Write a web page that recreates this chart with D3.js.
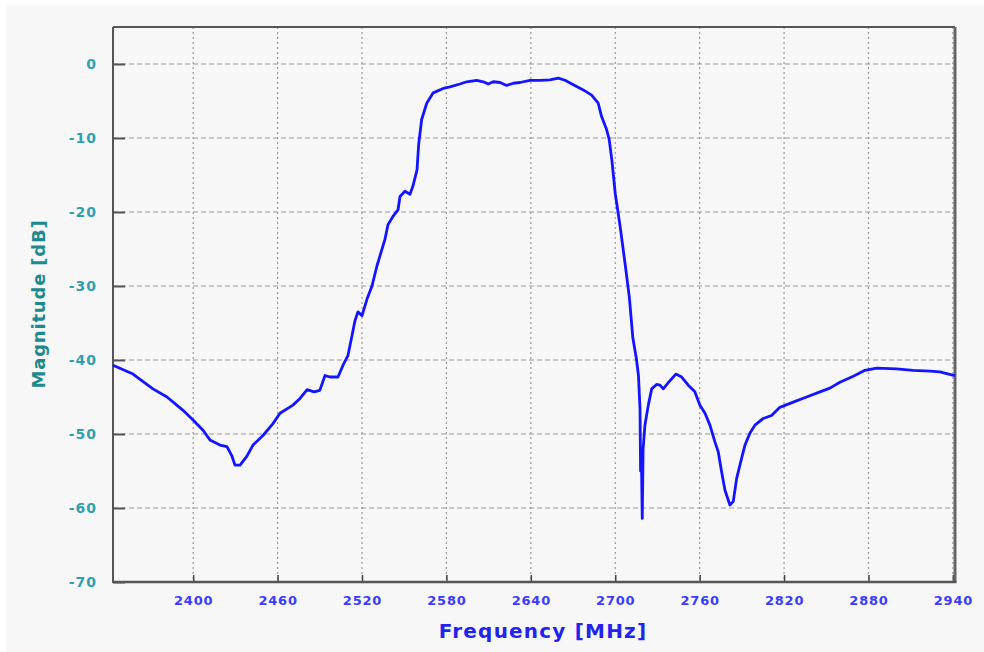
<!DOCTYPE html>
<html><head><meta charset="utf-8">
<script src="https://cdn.jsdelivr.net/npm/d3@7/dist/d3.min.js"></script>
<style>html,body{margin:0;padding:0;background:#fff;}svg{display:block;}</style>
</head><body>
<script>
const xTicks = [2400, 2460, 2520, 2580, 2640, 2700, 2760, 2820, 2880, 2940];
const yTicks = [0, -10, -20, -30, -40, -50, -60, -70];
const freq = [2343.0,2357.2,2371.4,2381.4,2392.8,2399.9,2407.0,2411.9,2419.0,2424.0,2427.6,2429.7,2433.3,2438.2,2442.5,2449.6,2456.7,2461.7,2470.9,2475.9,2481.0,2486.0,2490.0,2493.7,2497.2,2502.9,2506.5,2510.0,2512.9,2515.0,2517.1,2520.0,2523.5,2527.1,2530.6,2532.8,2536.3,2538.5,2542.0,2545.6,2547.0,2550.5,2554.1,2556.2,2559.1,2560.3,2562.4,2566.0,2570.6,2577.7,2582.5,2589.6,2594.4,2601.5,2606.2,2609.7,2613.3,2618.1,2622.8,2627.5,2632.3,2639.4,2646.5,2653.6,2659.5,2664.3,2670.2,2677.3,2683.2,2687.9,2690.3,2693.9,2695.7,2697.6,2700.0,2703.5,2707.0,2710.0,2712.5,2715.0,2716.5,2717.6,2718.0,2718.5,2719.2,2719.8,2721.1,2723.5,2725.9,2729.4,2731.8,2734.1,2738.9,2743.1,2747.2,2751.9,2756.6,2760.2,2763.8,2767.3,2770.9,2773.2,2775.6,2778.0,2781.5,2783.9,2786.3,2789.8,2792.2,2795.7,2799.3,2805.2,2811.1,2817.0,2826.5,2836.0,2845.5,2852.6,2859.7,2869.2,2877.5,2885.8,2900.0,2911.8,2923.7,2930.8,2939.1,2941.5];
const magnitude = [-40.7,-41.9,-43.9,-45.0,-46.8,-48.1,-49.5,-50.8,-51.5,-51.7,-53.0,-54.2,-54.2,-53.0,-51.5,-50.2,-48.6,-47.2,-46.1,-45.2,-44.0,-44.3,-44.1,-42.1,-42.3,-42.3,-40.7,-39.4,-36.7,-34.7,-33.5,-34.0,-31.8,-30.0,-27.3,-25.9,-23.7,-21.7,-20.6,-19.7,-17.9,-17.2,-17.6,-16.5,-14.3,-10.8,-7.5,-5.3,-3.9,-3.3,-3.1,-2.7,-2.4,-2.2,-2.4,-2.7,-2.4,-2.5,-2.9,-2.6,-2.5,-2.2,-2.2,-2.15,-1.9,-2.2,-2.8,-3.5,-4.2,-5.3,-7.1,-8.9,-10.2,-13.0,-17.5,-22.0,-27.0,-31.5,-37.0,-39.8,-42.1,-46.6,-55.0,-52.0,-61.4,-52.0,-48.8,-46.1,-43.9,-43.3,-43.4,-43.9,-42.8,-41.9,-42.3,-43.4,-44.3,-46.1,-47.2,-48.8,-51.1,-52.4,-55.1,-57.6,-59.6,-59.1,-56.0,-53.3,-51.5,-49.9,-48.8,-47.9,-47.5,-46.4,-45.7,-45.0,-44.3,-43.8,-43.0,-42.2,-41.4,-41.1,-41.2,-41.4,-41.5,-41.6,-42.0,-42.1];

const W = 984, H = 652;
const L = 113, R = 955, T = 27, B = 582;
const svg = d3.select("body").append("svg").attr("width", W).attr("height", H);
svg.append("rect").attr("x", 6).attr("y", 5).attr("width", W - 6).attr("height", H - 5).attr("fill", "#f7f7f7");

const x = d3.scaleLinear().domain([2343, 2941.5]).range([L, R]);
const y = d3.scaleLinear().domain([-70, 5]).range([B, T]);
const fmt = d => String(d);

// grid
svg.append("g").selectAll("line").data(yTicks.filter(d => d > -70)).join("line")
  .attr("x1", L).attr("x2", R).attr("y1", d => y(d)).attr("y2", d => y(d))
  .attr("stroke", "#9a9a9a").attr("stroke-width", 1.2).attr("stroke-dasharray", "5,3");
svg.append("g").selectAll("line").data(xTicks).join("line")
  .attr("x1", d => x(d)).attr("x2", d => x(d)).attr("y1", T).attr("y2", B)
  .attr("stroke", "#9a9a9a").attr("stroke-width", 1.2).attr("stroke-dasharray", "2,3");

// axes
const yAxis = d3.axisLeft(y).tickValues(yTicks).tickSize(-12).tickPadding(16).tickFormat(fmt);
const gy = svg.append("g").attr("transform", `translate(${L},0)`).call(yAxis);
gy.select(".domain").remove();
gy.selectAll(".tick line").attr("stroke", "#555").attr("stroke-width", 2);
gy.selectAll(".tick text").attr("fill", "#30a0ae").attr("font-family", "DejaVu Sans, Verdana, sans-serif")
  .attr("font-weight", "bold").attr("font-size", 14).attr("letter-spacing", 1);

const xAxis = d3.axisBottom(x).tickValues(xTicks).tickSize(-7).tickPadding(14).tickFormat(fmt);
const gx = svg.append("g").attr("transform", `translate(0,${B})`).call(xAxis);
gx.select(".domain").remove();
gx.selectAll(".tick line").attr("stroke", "#444").attr("stroke-width", 1.5);
gx.selectAll(".tick text").attr("fill", "#3b3bff").attr("font-family", "DejaVu Sans, Verdana, sans-serif")
  .attr("font-weight", "bold").attr("font-size", 13).attr("letter-spacing", 0.8);

// frame
svg.append("line").attr("x1", L).attr("x2", R).attr("y1", T).attr("y2", T).attr("stroke", "#555").attr("stroke-width", 2);
svg.append("line").attr("x1", R).attr("x2", R).attr("y1", T).attr("y2", B).attr("stroke", "#666").attr("stroke-width", 3);
svg.append("line").attr("x1", L).attr("x2", L).attr("y1", T).attr("y2", B + 1).attr("stroke", "#555").attr("stroke-width", 2);
svg.append("line").attr("x1", L).attr("x2", R + 1.5).attr("y1", B).attr("y2", B).attr("stroke", "#555").attr("stroke-width", 2.5);

// curve
const data = freq.map((f, i) => [f, magnitude[i]]);
svg.append("path").datum(data)
  .attr("d", d3.line().x(d => x(d[0])).y(d => y(d[1])))
  .attr("fill", "none").attr("stroke", "#1414ff").attr("stroke-width", 2.8).attr("stroke-linejoin", "round");

// titles
svg.append("text").attr("x", 543).attr("y", 638).attr("text-anchor", "middle")
  .attr("fill", "#2323ee").attr("font-family", "DejaVu Sans, Verdana, sans-serif").attr("font-weight", "bold")
  .attr("font-size", 20).attr("letter-spacing", 1.2).text("Frequency [MHz]");
svg.append("text").attr("transform", "translate(45,304) rotate(-90)").attr("text-anchor", "middle")
  .attr("fill", "#1b8b8f").attr("font-family", "DejaVu Sans, Verdana, sans-serif").attr("font-weight", "bold")
  .attr("font-size", 18).attr("letter-spacing", 0.8).text("Magnitude [dB]");
</script>
</body></html>
